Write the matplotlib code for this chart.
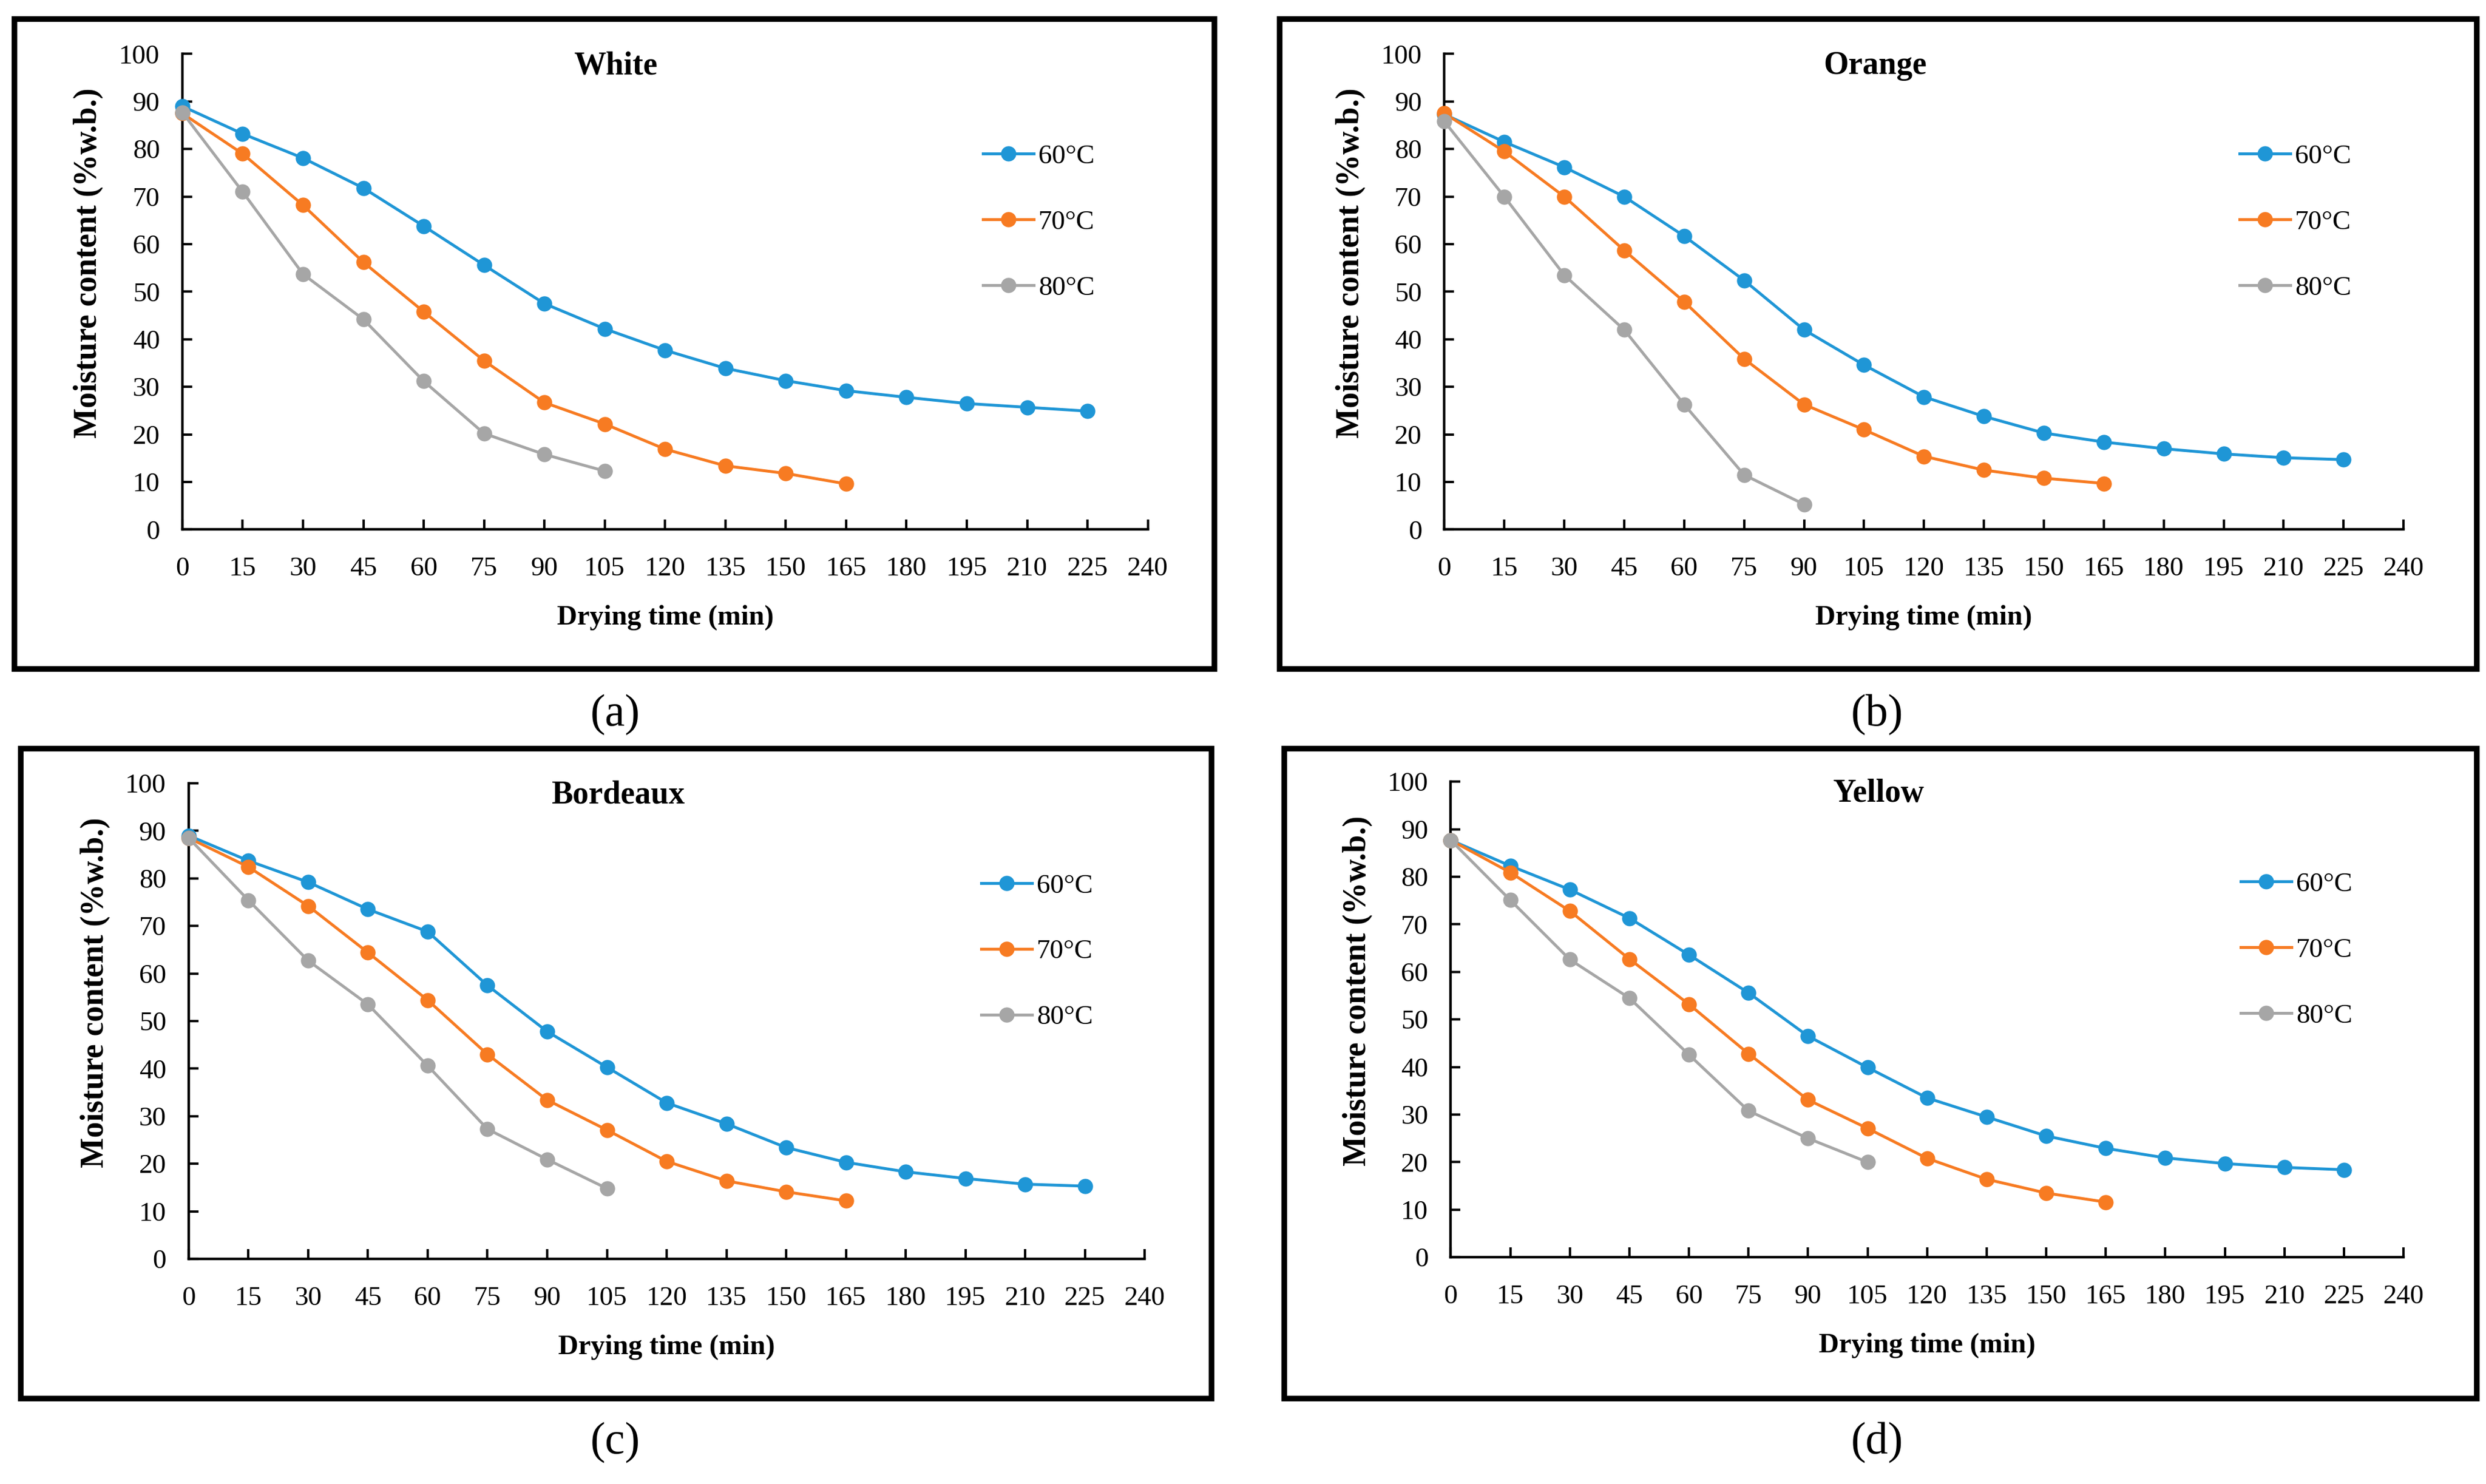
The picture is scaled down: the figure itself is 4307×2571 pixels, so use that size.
import numpy as np
import matplotlib
matplotlib.use("Agg")
import matplotlib.pyplot as plt
from matplotlib.patches import Rectangle

# drying time (min)
time = [0, 15, 30, 45, 60, 75, 90, 105, 120, 135, 150, 165, 180, 195, 210, 225]

# moisture content (%w.b.)
white_60 = [89.0, 83.2, 78.1, 71.8, 63.8, 55.6, 47.5, 42.2, 37.7, 33.9, 31.3, 29.2, 27.8, 26.5, 25.7, 24.9]
white_70 = [87.5, 79.0, 68.2, 56.2, 45.8, 35.5, 26.7, 22.2, 16.9, 13.4, 11.8, 9.6]
white_80 = [87.7, 71.0, 53.7, 44.2, 31.2, 20.2, 15.8, 12.3]

orange_60 = [87.3, 81.5, 76.2, 70.0, 61.7, 52.4, 42.0, 34.6, 27.9, 23.8, 20.3, 18.4, 17.0, 15.9, 15.1, 14.7]
orange_70 = [87.5, 79.5, 70.0, 58.7, 47.9, 35.9, 26.3, 21.0, 15.4, 12.5, 10.8, 9.7]
orange_80 = [85.8, 70.0, 53.5, 42.0, 26.3, 11.5, 5.3]

bordeaux_60 = [89.0, 83.7, 79.2, 73.5, 68.8, 57.5, 47.8, 40.3, 32.8, 28.4, 23.4, 20.3, 18.3, 16.9, 15.7, 15.3]
bordeaux_70 = [88.5, 82.4, 74.2, 64.4, 54.4, 43.0, 33.4, 27.1, 20.5, 16.4, 14.1, 12.2]
bordeaux_80 = [88.5, 75.4, 62.7, 53.5, 40.6, 27.3, 20.9, 14.8]

yellow_60 = [87.7, 82.3, 77.3, 71.3, 63.6, 55.6, 46.5, 39.9, 33.5, 29.5, 25.5, 22.9, 20.9, 19.7, 18.9, 18.4]
yellow_70 = [87.7, 80.9, 72.8, 62.7, 53.2, 42.8, 33.1, 27.1, 20.8, 16.4, 13.5, 11.6]
yellow_80 = [87.7, 75.1, 62.6, 54.5, 42.6, 30.8, 25.0, 20.0]

titles = ["White", "Orange", "Bordeaux", "Yellow"]
panel_tags = ["(a)", "(b)", "(c)", "(d)"]
series_labels = ["60°C", "70°C", "80°C"]
colors = ["#1f96d6", "#f77b22", "#a6a6a6"]

panels = [
    (white_60, white_70, white_80),
    (orange_60, orange_70, orange_80),
    (bordeaux_60, bordeaux_70, bordeaux_80),
    (yellow_60, yellow_70, yellow_80),
]

# layout in figure fractions
axes_pos = [
    [0.07334, 0.64316, 0.38839, 0.32051],
    [0.58099, 0.64316, 0.38584, 0.32051],
    [0.07589, 0.15171, 0.38457, 0.32051],
    [0.58355, 0.15278, 0.38329, 0.32051],
]
frames = [
    [0.00574, 0.54915, 0.48278, 0.43803],
    [0.51467, 0.54915, 0.48150, 0.43803],
    [0.00829, 0.05769, 0.47895, 0.43803],
    [0.51658, 0.05769, 0.47959, 0.43803],
]
tag_pos = [(0.2474, 0.5182), (0.7551, 0.5182), (0.2474, 0.0278), (0.7551, 0.0278)]

plt.rcParams['font.family'] = ['Liberation Serif', 'DejaVu Serif']

fig = plt.figure(figsize=(43.07, 25.71), dpi=100)
fig.patch.set_facecolor("white")

for i in range(4):
    fx, fy, fw, fh = frames[i]
    fig.patches.append(Rectangle((fx, fy), fw, fh, transform=fig.transFigure,
                                 fill=False, edgecolor="black", linewidth=7, zorder=0))

    ax = fig.add_axes(axes_pos[i])
    for j in range(3):
        y = panels[i][j]
        ax.plot(time[:len(y)], y, color=colors[j], linewidth=3.6, marker="o",
                markersize=18, label=series_labels[j], clip_on=False, zorder=3 + j)

    ax.set_xlim(0, 240)
    ax.set_ylim(0, 100)
    ax.set_xticks(np.arange(0, 241, 15))
    ax.set_yticks(np.arange(0, 101, 10))
    ax.spines["top"].set_visible(False)
    ax.spines["right"].set_visible(False)
    ax.spines["left"].set_linewidth(3.2)
    ax.spines["bottom"].set_linewidth(3.2)
    ax.tick_params(axis="both", direction="in", length=12, width=3, labelsize=34)
    ax.tick_params(axis="x", pad=34)
    ax.tick_params(axis="y", pad=28)

    ax.text(0.449, 0.975, titles[i], transform=ax.transAxes, ha="center", va="center",
            fontsize=40, fontweight="bold")
    ax.set_xlabel("Drying time (min)", fontsize=35, fontweight="bold")
    ax.xaxis.set_label_coords(0.5, -0.158)
    ax.set_ylabel("Moisture content (%w.b.)", fontsize=40, fontweight="bold")
    ax.yaxis.set_label_coords(-0.082, 0.56)

    ax.legend(loc="upper left", bbox_to_anchor=(0.829, 0.81), frameon=False,
              fontsize=34, handlelength=1.87, handletextpad=0.17, labelspacing=1.5,
              borderpad=0, borderaxespad=0)

    fig.text(tag_pos[i][0], tag_pos[i][1], panel_tags[i], ha="center", va="center", fontsize=56)

fig.savefig("out.png", dpi=100, facecolor="white")
